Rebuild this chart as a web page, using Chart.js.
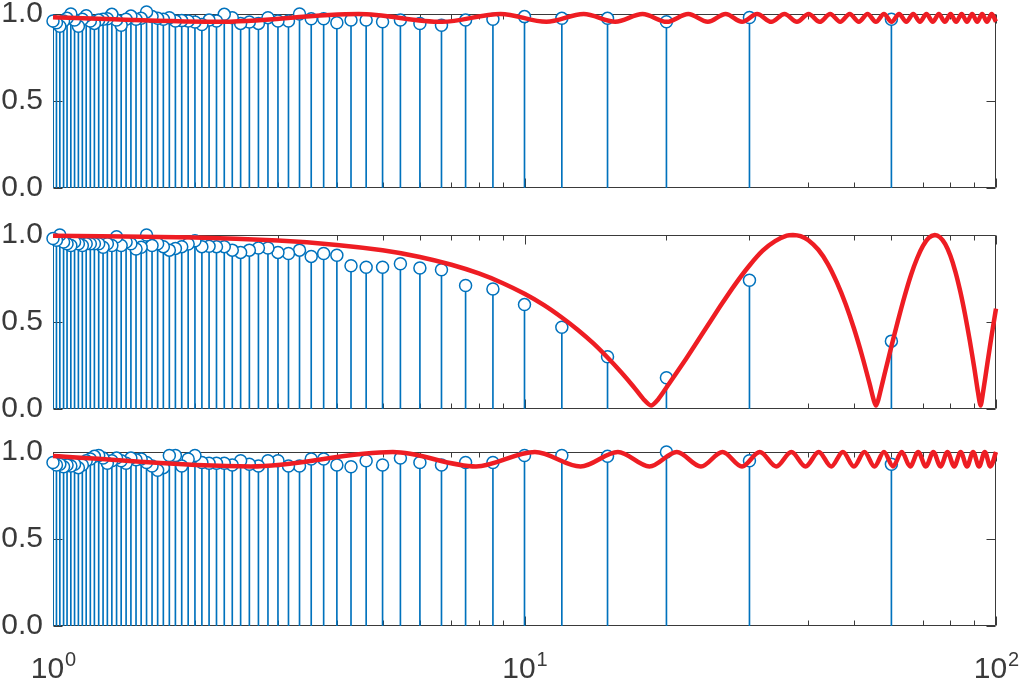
<!DOCTYPE html>
<html>
<head>
<meta charset="utf-8">
<script src="https://cdn.jsdelivr.net/npm/chart.js@4.4.1/dist/chart.umd.min.js"></script>
<style>
    html, body { margin: 0; padding: 0; background: #fff; }
    body { width: 1022px; height: 695px; position: relative; overflow: hidden; }
    canvas { position: absolute; left: 0; }
</style>
</head>
<body>
<canvas id="chartTop" width="1022" height="234" style="top:-16px"></canvas>
<canvas id="chartMid" width="1022" height="234" style="top:205px"></canvas>
<canvas id="chartBot" width="1022" height="273" style="top:422px"></canvas>
<script>
// stem positions (x = 60/k, k = 1..60)
const stemX = [60, 30, 20, 15, 12, 10, 8.571, 7.5, 6.667, 6,
    5.455, 5, 4.615, 4.286, 4, 3.75, 3.529, 3.333, 3.158, 3,
    2.857, 2.727, 2.609, 2.5, 2.4, 2.308, 2.222, 2.143, 2.069, 2,
    1.935, 1.875, 1.818, 1.765, 1.714, 1.667, 1.622, 1.579, 1.538, 1.5,
    1.463, 1.429, 1.395, 1.364, 1.333, 1.304, 1.277, 1.25, 1.224, 1.2,
    1.176, 1.154, 1.132, 1.111, 1.091, 1.071, 1.053, 1.034, 1.017, 1];

const stemTop = [0.97, 0.98, 0.955, 0.975, 0.975, 0.985, 0.97, 0.965, 0.935, 0.945,
    0.965, 0.955, 0.965, 0.965, 0.95, 0.973, 0.973, 1.0, 0.96, 0.96,
    0.979, 0.946, 0.954, 0.946, 0.979, 0.998, 0.96, 0.965, 0.94, 0.954,
    0.96, 0.962, 0.96, 0.979, 0.97, 0.975, 0.985, 1.012, 0.975, 0.97,
    0.988, 0.97, 0.935, 0.965, 0.998, 0.973, 0.97, 0.965, 0.946, 0.96,
    0.99, 0.97, 0.93, 0.965, 1.0, 0.975, 0.96, 0.93, 0.95, 0.96];

const stemMid = [0.39, 0.74, 0.18, 0.30, 0.47, 0.60, 0.69, 0.71, 0.80, 0.81,
    0.835, 0.815, 0.815, 0.823, 0.884, 0.894, 0.877, 0.913, 0.894, 0.90,
    0.925, 0.925, 0.913, 0.90, 0.913, 0.933, 0.933, 0.935, 0.933, 0.967,
    0.948, 0.933, 0.923, 0.913, 0.933, 0.95, 0.94, 1.0, 0.93, 0.92,
    0.95, 0.96, 0.94, 0.99, 0.94, 0.95, 0.93, 0.95, 0.95, 0.95,
    0.95, 0.94, 0.95, 0.96, 0.94, 0.95, 0.96, 1.0, 0.97, 0.98];

const stemBot = [0.93, 0.95, 1.0, 0.975, 0.98, 0.98, 0.94, 0.94, 0.925, 0.94,
    0.965, 0.925, 0.95, 0.915, 0.925, 0.96, 0.96, 0.92, 0.92, 0.95,
    0.95, 0.92, 0.93, 0.95, 0.925, 0.935, 0.935, 0.935, 0.94, 0.98,
    0.96, 0.92, 0.98, 0.98, 0.91, 0.895, 0.92, 0.94, 0.96, 0.955,
    0.965, 0.935, 0.95, 0.965, 0.95, 0.935, 0.965, 0.98, 0.975, 0.96,
    0.95, 0.925, 0.91, 0.93, 0.92, 0.925, 0.915, 0.93, 0.925, 0.94];

// red curves, read at their turning points
const curveTopX = [1, 2.23, 4.45, 6.68, 8.9, 11.13, 13.35, 15.58, 17.8, 20.03,
    22.25, 24.48, 26.7, 28.93, 31.15, 33.38, 35.6, 37.83, 40.05, 42.28,
    44.5, 46.73, 48.95, 51.18, 53.4, 55.63, 57.85, 60.08, 62.3, 64.53,
    66.75, 68.98, 71.2, 73.43, 75.65, 77.88, 80.1, 82.33, 84.55, 86.78,
    89.0, 91.23, 93.45, 95.68, 97.9, 100];
const curveTopY = [0.982, 0.955, 1.0, 0.955, 1.0, 0.955, 1.0, 0.955, 1.0, 0.955,
    1.0, 0.955, 1.0, 0.955, 1.0, 0.955, 1.0, 0.955, 1.0, 0.955,
    1.0, 0.955, 1.0, 0.955, 1.0, 0.955, 1.0, 0.955, 1.0, 0.955,
    1.0, 0.955, 1.0, 0.955, 1.0, 0.955, 1.0, 0.955, 1.0, 0.955,
    1.0, 0.955, 1.0, 0.955, 1.0, 0.956];

const curveMidX = [1, 2, 3, 4, 5, 6, 7, 8, 9, 10,
    11, 12, 13, 14, 15, 16, 17, 17.9, 18.55, 19.2,
    20, 22, 24, 26, 28, 30, 32, 34, 36, 37.1,
    38.5, 40, 42, 44, 46, 48, 50, 52, 54, 55.1,
    55.65, 56.2, 57, 58, 60, 62, 64, 66, 68, 70,
    72, 74.2, 76, 78, 80, 82, 84, 86, 88, 90,
    91.6, 92.75, 93.9, 96, 98, 100];
const curveMidY = [0.996, 0.986, 0.968, 0.943, 0.912, 0.874, 0.829, 0.779, 0.723, 0.662,
    0.597, 0.526, 0.453, 0.377, 0.296, 0.214, 0.131, 0.055, 0.02, 0.055,
    0.123, 0.288, 0.445, 0.59, 0.718, 0.825, 0.91, 0.965, 0.996, 1.0,
    0.993, 0.97, 0.915, 0.833, 0.726, 0.602, 0.461, 0.306, 0.14, 0.047,
    0.02, 0.047, 0.114, 0.198, 0.36, 0.511, 0.649, 0.769, 0.865, 0.937,
    0.983, 1.0, 0.988, 0.949, 0.882, 0.79, 0.675, 0.541, 0.392, 0.231,
    0.095, 0.02, 0.098, 0.272, 0.431, 0.577];

const curveBotX = [1, 2.63, 5.26, 7.89, 10.52, 13.15, 15.78, 18.41, 21.04, 23.67,
    26.3, 28.93, 31.56, 34.19, 36.82, 39.45, 42.08, 44.71, 47.34, 49.97,
    52.6, 55.23, 57.86, 60.49, 63.12, 65.75, 68.38, 71.01, 73.64, 76.27,
    78.9, 81.53, 84.16, 86.79, 89.42, 92.05, 94.68, 97.31, 100];
const curveBotY = [0.977, 0.917, 1.0, 0.917, 1.0, 0.917, 1.0, 0.917, 1.0, 0.917,
    1.0, 0.917, 1.0, 0.917, 1.0, 0.917, 1.0, 0.917, 1.0, 0.917,
    1.0, 0.917, 1.0, 0.917, 1.0, 0.917, 1.0, 0.917, 1.0, 0.917,
    1.0, 0.917, 1.0, 0.917, 1.0, 0.917, 1.0, 0.917, 1.0];

// axes ticks
const yTicks = [0, 0.5, 1];
const xMajor = [1, 10, 100];
const xMinor = [2, 3, 4, 5, 6, 7, 8, 9, 20, 30, 40, 50, 60, 70, 80, 90];
const xExponents = ['0', '1', '2'];

const axisColor = '#3a3a3a';
const stemColor = '#0072BD';
const curveColor = '#EE1D23';
const fontFamily = "'Liberation Sans', Arial, sans-serif";

// box with inward tick marks on all four sides (MATLAB style)
const boxPlugin = {
    id: 'boxPlugin',
    beforeDatasetsDraw(chart) {
        const { ctx, chartArea: a, scales: { x, y } } = chart;
        const L = Math.round(a.left) + 0.5, R = Math.round(a.right) - 0.5;
        const T = Math.round(a.top) + 0.5, B = Math.round(a.bottom) - 0.5;
        ctx.save();
        ctx.strokeStyle = axisColor;
        ctx.lineWidth = 1;
        ctx.beginPath();
        ctx.rect(L, T, R - L, B - T);
        const xTick = (v, len) => {
            const px = Math.round(x.getPixelForValue(v)) + 0.5;
            ctx.moveTo(px, B); ctx.lineTo(px, B - len);
            ctx.moveTo(px, T); ctx.lineTo(px, T + len);
        };
        xMajor.forEach(v => xTick(v, 9));
        xMinor.forEach(v => xTick(v, 5));
        yTicks.forEach(v => {
            const py = Math.round(y.getPixelForValue(v)) + 0.5;
            ctx.moveTo(L, py); ctx.lineTo(L + 9, py);
            ctx.moveTo(R, py); ctx.lineTo(R - 9, py);
        });
        ctx.stroke();
        ctx.restore();
    }
};

// 10^n labels under the last panel
const expLabels = {
    id: 'expLabels',
    afterDraw(chart) {
        const { ctx, chartArea: a, scales: { x } } = chart;
        ctx.save();
        ctx.fillStyle = axisColor;
        ctx.textBaseline = 'alphabetic';
        ctx.textAlign = 'left';
        xMajor.forEach((v, i) => {
            ctx.font = '30px ' + fontFamily;
            const wBase = ctx.measureText('10').width;
            ctx.font = '20px ' + fontFamily;
            const wExp = ctx.measureText(xExponents[i]).width;
            const start = x.getPixelForValue(v) - (wBase + wExp) / 2;
            ctx.font = '30px ' + fontFamily;
            ctx.fillText('10', start, a.bottom + 52);
            ctx.font = '20px ' + fontFamily;
            ctx.fillText(xExponents[i], start + wBase + 1, a.bottom + 40);
        });
        ctx.restore();
    }
};

function makePanel(id, curveX, curveY, stemY, bottomPad, extraPlugins, smooth) {
    const curve = curveX.map((x, i) => ({ x, y: curveY[i] }));
    const stems = stemX.map((x, i) => ({ x, y: stemY[i] }));
    const lineOpts = smooth === 'monotone'
        ? { cubicInterpolationMode: 'monotone' }
        : { tension: 0.25 };

    new Chart(document.getElementById(id).getContext('2d'), {
        type: 'scatter',
        data: {
            datasets: [
                Object.assign({
                    type: 'line',
                    data: curve,
                    borderColor: curveColor,
                    borderWidth: 4.5,
                    pointRadius: 0,
                    fill: false,
                    clip: false
                }, lineOpts),
                {
                    type: 'scatter',
                    data: stems,
                    pointStyle: 'circle',
                    pointRadius: 6,
                    borderWidth: 1.5,
                    borderColor: stemColor,
                    backgroundColor: '#ffffff',
                    clip: false
                },
                {
                    type: 'bar',
                    data: stems,
                    backgroundColor: stemColor,
                    barThickness: 1,
                    borderWidth: 0
                }
            ]
        },
        options: {
            responsive: false,
            animation: false,
            layout: { padding: { left: 0, right: 26, top: 30, bottom: bottomPad } },
            plugins: { legend: { display: false }, tooltip: { enabled: false } },
            scales: {
                x: {
                    type: 'logarithmic',
                    min: 1,
                    max: 100,
                    display: false,
                    offset: false,
                    grid: { offset: false }
                },
                y: {
                    type: 'linear',
                    min: 0,
                    max: 1,
                    grid: { display: false, drawTicks: false },
                    border: { display: false },
                    afterBuildTicks: s => { s.ticks = yTicks.map(v => ({ value: v })); },
                    afterFit: s => { s.width = 53; },
                    ticks: {
                        padding: 10,
                        color: axisColor,
                        font: { family: fontFamily, size: 30 },
                        callback: v => v.toFixed(1)
                    }
                }
            }
        },
        plugins: [boxPlugin].concat(extraPlugins)
    });
}

makePanel('chartTop', curveTopX, curveTopY, stemTop, 30, [], 'monotone');
makePanel('chartMid', curveMidX, curveMidY, stemMid, 30, [], 'tension');
makePanel('chartBot', curveBotX, curveBotY, stemBot, 69, [expLabels], 'monotone');
</script>
</body>
</html>
